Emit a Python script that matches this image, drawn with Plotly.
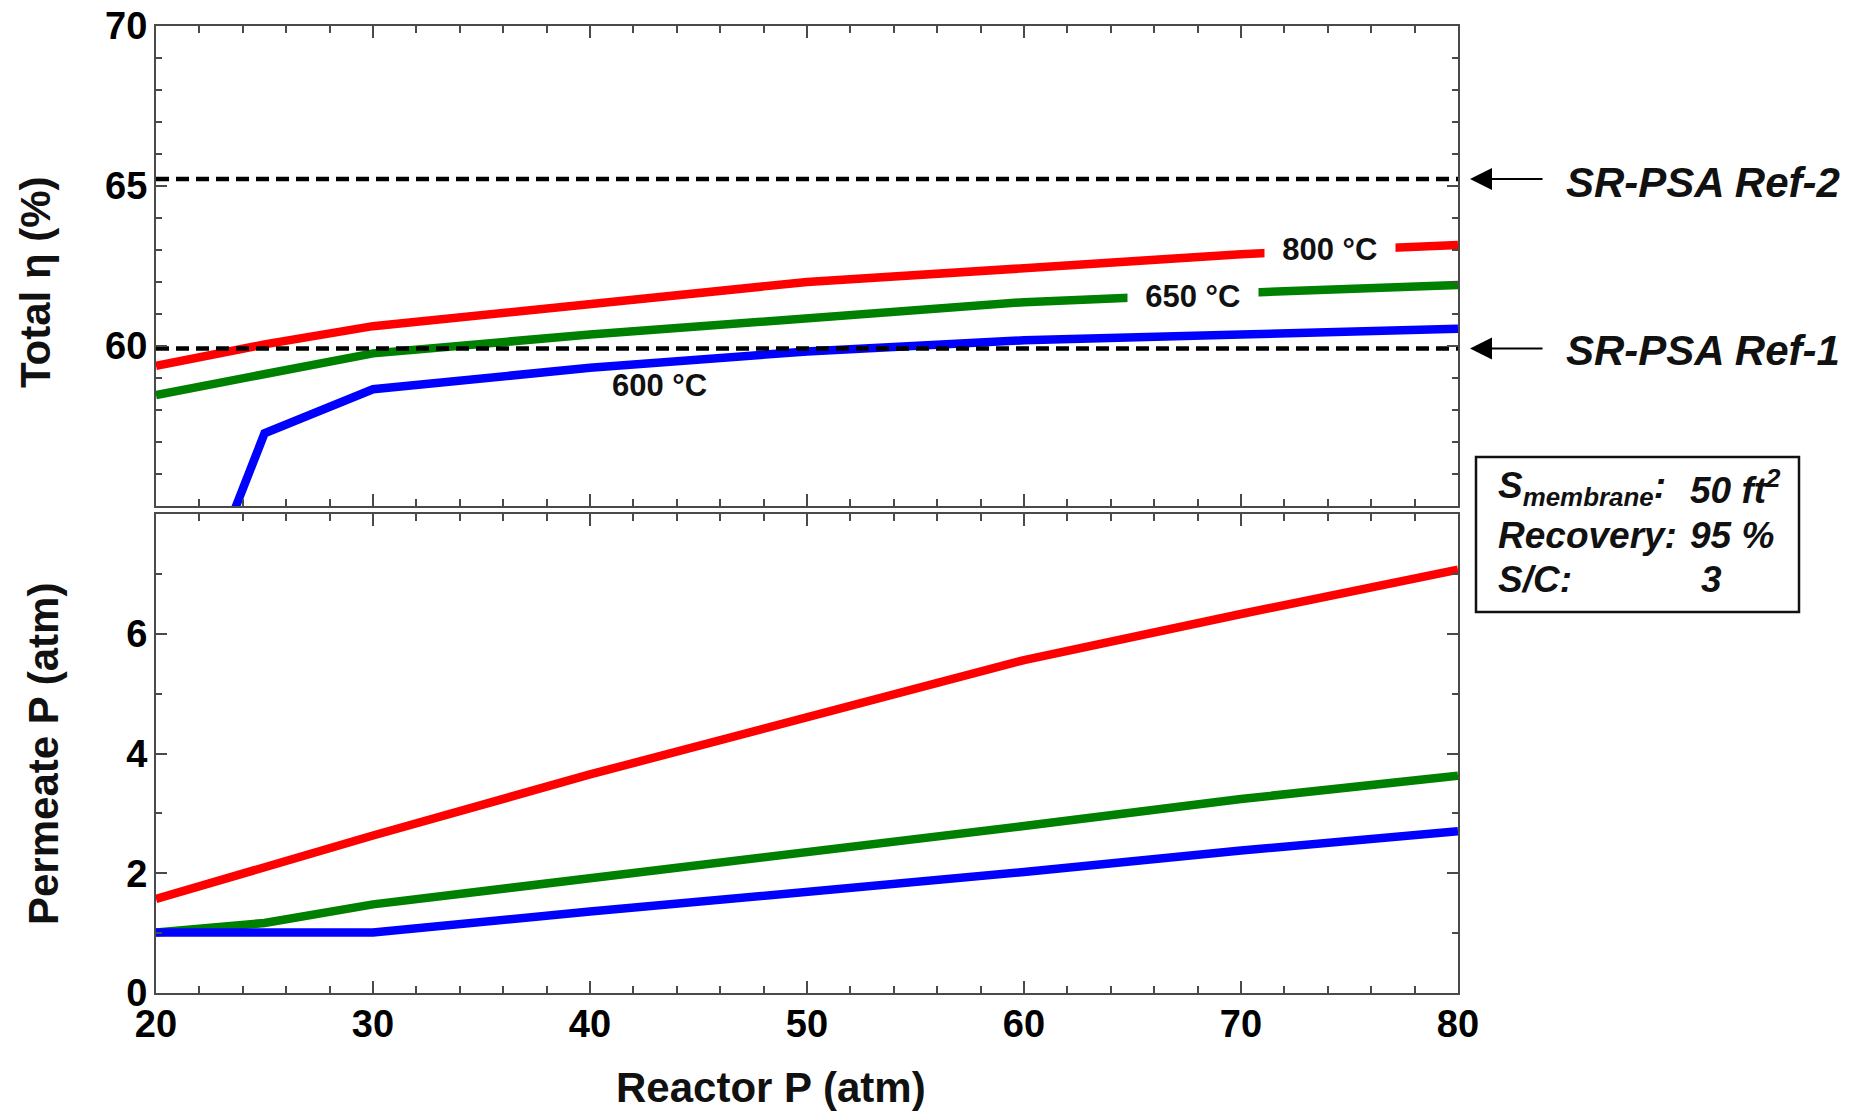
import plotly.graph_objects as go

# ---------------- data ----------------
reactor_p = [20, 25, 30, 40, 50, 60, 70, 80]

eff_800 = [59.38, 60.05, 60.62, 61.30, 62.00, 62.43, 62.87, 63.16]
eff_650 = [58.47, 59.13, 59.77, 60.36, 60.88, 61.37, 61.66, 61.91]
eff_600 = [48.6, 57.27, 58.65, 59.32, 59.83, 60.18, 60.36, 60.54]

perm_800 = [1.57, 2.10, 2.63, 3.65, 4.60, 5.56, 6.33, 7.07]
perm_650 = [1.01, 1.17, 1.48, 1.91, 2.33, 2.79, 3.24, 3.63]
perm_600 = [1.01, 1.01, 1.01, 1.36, 1.68, 2.02, 2.38, 2.70]

ref_levels = [59.92, 65.22]
ref_names = ["SR-PSA Ref-1", "SR-PSA Ref-2"]

eff_ticks = [60, 65, 70]
perm_ticks = [0, 2, 4, 6]

series_names = ["800 °C", "650 °C", "600 °C"]
colors = ["#FF0000", "#008000", "#0000FF"]

# ---------------- geometry helpers (pixels -> paper) ----------------
OFF = 8  # default page body margin
W, H = 1849 - OFF, 1111 - OFF
L, R, T, B = 156, 1458, 26, 993   # plot area in screenshot pixels


def px(x):
    return (x - L) / (R - L)


def py(y):
    return (B - y) / (B - T)


FONT = "Liberation Sans, Arial, Helvetica, sans-serif"
AXC = "#4a4a4a"
TXT = "#111111"
LW = 8.5

fig = go.Figure()

for vals, c, n in zip([eff_800, eff_650, eff_600], colors, series_names):
    fig.add_trace(go.Scatter(x=reactor_p, y=vals, mode="lines", name=n,
                             line=dict(color=c, width=LW),
                             xaxis="x", yaxis="y", showlegend=False))

for lvl in ref_levels:
    fig.add_trace(go.Scatter(x=[reactor_p[0], reactor_p[-1]], y=[lvl, lvl], mode="lines",
                             line=dict(color="black", width=4.5, dash="13px,7px"),
                             xaxis="x", yaxis="y", showlegend=False))

for vals, c, n in zip([perm_800, perm_650, perm_600], colors, series_names):
    fig.add_trace(go.Scatter(x=reactor_p, y=vals, mode="lines", name=n,
                             line=dict(color=c, width=LW),
                             xaxis="x2", yaxis="y2", showlegend=False))

tickfont = dict(family=FONT, size=38, color="black", weight="bold")

xcommon = dict(range=[20, 80], tickmode="linear", tick0=20, dtick=10,
               ticks="inside", ticklen=12, tickwidth=1.5, tickcolor=AXC,
               minor=dict(tickmode="linear", tick0=20, dtick=2, ticks="inside",
                          ticklen=7, tickwidth=1.5, tickcolor=AXC),
               showline=True, linecolor=AXC, linewidth=2, mirror="ticks",
               showgrid=False, zeroline=False, tickfont=tickfont,
               ticklabeloverflow="allow", automargin=False)

ycommon = dict(ticks="inside", ticklen=11, tickwidth=1.5, tickcolor=AXC,
               showline=True, linecolor=AXC, linewidth=2, mirror="ticks",
               showgrid=False, zeroline=False, tickfont=tickfont,
               ticklabelstandoff=-1, ticklabeloverflow="allow", automargin=False)

fig.update_layout(
    width=W, height=H,
    margin=dict(l=L - OFF, r=W - (R - OFF), t=T - OFF, b=H - (B - OFF), pad=0,
                autoexpand=False),
    paper_bgcolor="white", plot_bgcolor="white",
    font=dict(family=FONT, color="black"),
    xaxis=dict(xcommon, anchor="y", domain=[0, 1], showticklabels=False),
    xaxis2=dict(xcommon, anchor="y2", domain=[0, 1], matches="x",
                showticklabels=True, ticklabelstandoff=-4),
    yaxis=dict(ycommon, domain=[py(506), 1], range=[55, 70], tickmode="array",
               tickvals=eff_ticks,
               minor=dict(tickmode="linear", tick0=55, dtick=1, ticks="inside",
                          ticklen=6, tickwidth=1.5, tickcolor=AXC)),
    yaxis2=dict(ycommon, domain=[0, py(514)], range=[0, 8], tickmode="array",
                tickvals=perm_ticks,
                minor=dict(tickmode="linear", tick0=0, dtick=1, ticks="inside",
                           ticklen=6, tickwidth=1.5, tickcolor=AXC)),
)

ann = []


def text_ann(text, x, y, size, xanchor="center", yanchor="middle", **kw):
    d = dict(text=text, x=x, y=y, xref=kw.pop("xref", "paper"), yref=kw.pop("yref", "paper"),
             xanchor=xanchor, yanchor=yanchor, showarrow=False,
             font=dict(size=size, family=FONT, color=TXT))
    d.update(kw)
    return d


# axis titles
ann.append(text_ann("<b>Reactor P (atm)</b>", px(771), py(1087), 42))
ann.append(text_ann("<b>Total η (%)</b>", px(35), py(282), 42, textangle=-90))
ann.append(text_ann("<b>Permeate P (atm)</b>", px(43), py(754), 42, textangle=-90))

# curve labels
label_pos = [(74.1, 63.02, True), (67.8, 61.55, True), (43.2, 58.78, False)]
for (lx, ly, bg), n in zip(label_pos, series_names):
    txt = ("&nbsp;&nbsp;<b>%s</b>&nbsp;&nbsp;" % n) if bg else "<b>%s</b>" % n
    kw = dict(bgcolor="white", borderpad=0) if bg else {}
    ann.append(text_ann(txt, lx, ly, 31, xref="x", yref="y", **kw))

# reference arrows and labels
for lvl, name, ty in zip(ref_levels, ref_names, [350, 182]):
    ann.append(dict(text="", x=1.0, y=lvl, xref="paper", yref="y", xshift=12,
                    showarrow=True, ax=74, ay=0, arrowhead=2, arrowsize=2.2,
                    arrowwidth=2, arrowcolor="black"))
    ann.append(text_ann("<b><i>%s</i></b>" % name, px(1564), py(ty), 42, xanchor="left"))

# info box
box_left = ["<b><i>S<sub>membrane</sub>:</i></b>", "<b><i>Recovery:</i></b>", "<b><i>S/C:</i></b>"]
box_right = ["<b><i>50 ft<sup>2</sup></i></b>", "<b><i>95 %</i></b>", "<b><i>3</i></b>"]
box_right_x = [1688, 1688, 1699]
box_rows_y = [488, 535, 579]
for tl, tr, rx, ry in zip(box_left, box_right, box_right_x, box_rows_y):
    ann.append(text_ann(tl, px(1496), py(ry), 37, xanchor="left"))
    ann.append(text_ann(tr, px(rx), py(ry), 37, xanchor="left"))

fig.update_layout(annotations=ann)
fig.add_shape(type="rect", xref="paper", yref="paper",
              x0=px(1476), x1=px(1799), y0=py(612), y1=py(457),
              line=dict(color="#111", width=2.5), fillcolor="rgba(0,0,0,0)")

fig.write_html("out.html")
